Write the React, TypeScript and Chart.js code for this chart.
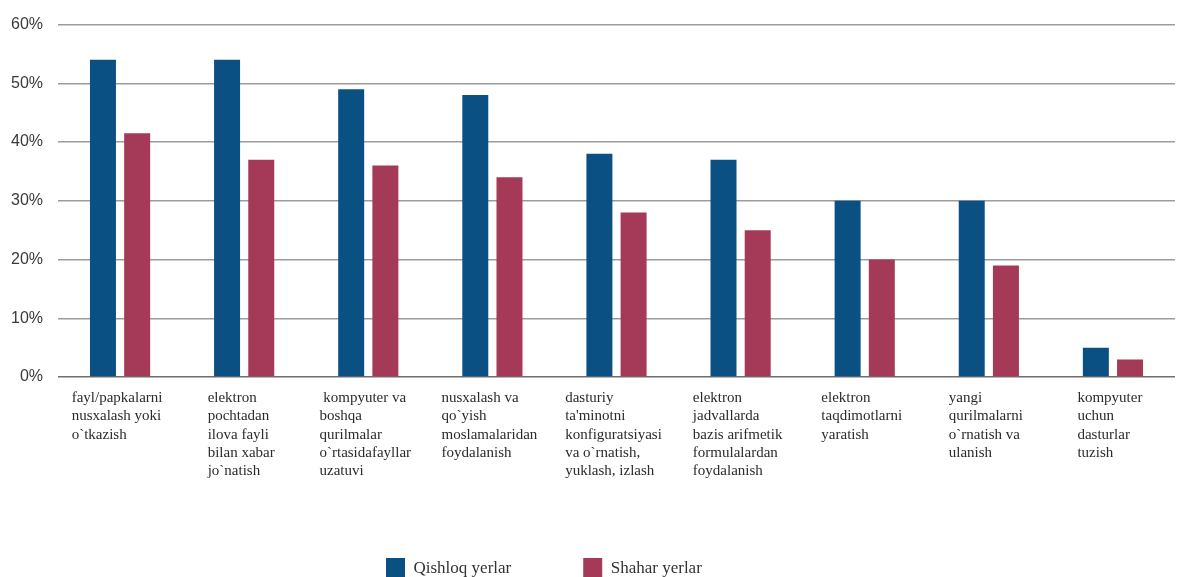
import React, { useEffect, useRef } from "react";
import { Chart, registerables } from "chart.js";

Chart.register(...registerables);

const categories: string[][] = [
  ["fayl/papkalarni", "nusxalash yoki", "o`tkazish"],
  ["elektron", "pochtadan", "ilova fayli", "bilan xabar", "jo`natish"],
  [" kompyuter va", "boshqa", "qurilmalar", "o`rtasidafayllar", "uzatuvi"],
  ["nusxalash va", "qo`yish", "moslamalaridan", "foydalanish"],
  ["dasturiy", "ta'minotni", "konfiguratsiyasi", "va o`rnatish,", "yuklash, izlash"],
  ["elektron", "jadvallarda", "bazis arifmetik", "formulalardan", "foydalanish"],
  ["elektron", "taqdimotlarni", "yaratish"],
  ["yangi", "qurilmalarni", "o`rnatish va", "ulanish"],
  ["kompyuter", "uchun", "dasturlar", "tuzish"],
];

const ruralValues: number[] = [54, 54, 49, 48, 38, 37, 30, 30, 5];
const urbanValues: number[] = [41.5, 37, 36, 34, 28, 25, 20, 19, 3];

const seriesNames: string[] = ["Qishloq yerlar", "Shahar yerlar"];
const yTicks: number[] = [0, 10, 20, 30, 40, 50, 60];

const BLUE = "#0b5082";
const RED = "#a53958";

const CHART_BOTTOM = 377;
const LEGEND_X = 386;
const LEGEND_Y = 558;

const tweaks = {
  id: "tweaks",
  afterLayout(chart: any) {
    const lg = chart.legend;
    if (lg && lg.lineWidths) {
      const pad = lg.options.labels.padding;
      const startX = (lg.left + pad + lg.right - lg.lineWidths[0]) / 2;
      const dx = LEGEND_X - startX;
      const dy = LEGEND_Y - (lg.top + pad);
      lg.left += dx;
      lg.right += dx;
      lg.top += dy;
      lg.bottom = chart.height + 20;
    }
  },
  beforeDraw(chart: any) {
    const scale = chart.scales.x;
    if (!scale) return;
    const items = scale.getLabelItems(chart.chartArea);
    const ctx = chart.ctx;
    ctx.save();
    items.forEach((item: any, i: number) => {
      ctx.font = item.font.string;
      const lines = Array.isArray(item.label) ? item.label : [item.label];
      let maxW = 0;
      lines.forEach((l: string) => {
        maxW = Math.max(maxW, ctx.measureText(l).width);
      });
      item.options.translation[0] = scale.getPixelForTick(i) - maxW / 2 - 3;
      item.options.textAlign = "left";
    });
    ctx.restore();
  },
};

export default function App() {
  const ref = useRef<HTMLCanvasElement | null>(null);

  useEffect(() => {
    if (!ref.current) return;
    const chart = new Chart(ref.current, {
      type: "bar",
      data: {
        labels: categories,
        datasets: [
          {
            label: seriesNames[0],
            data: ruralValues,
            backgroundColor: BLUE,
            borderWidth: 0,
            categoryPercentage: 0.551,
            barPercentage: 0.76,
          },
          {
            label: seriesNames[1],
            data: urbanValues,
            backgroundColor: RED,
            borderWidth: 0,
            categoryPercentage: 0.551,
            barPercentage: 0.76,
          },
        ],
      },
      options: {
        responsive: true,
        maintainAspectRatio: false,
        animation: false,
        layout: { padding: { top: 19, right: 4, left: 0, bottom: 0 } },
        plugins: {
          tooltip: { enabled: false },
          legend: {
            position: "bottom",
            maxHeight: 40,
            labels: {
              boxWidth: 19,
              boxHeight: 22,
              padding: 72,
              color: "#333",
              font: { family: "'Liberation Serif', serif", size: 17 },
            },
          },
        },
        scales: {
          x: {
            grid: { display: false, drawTicks: false },
            border: { display: false },
            ticks: {
              autoSkip: false,
              maxRotation: 0,
              minRotation: 0,
              padding: 12,
              color: "#2b2b2b",
              font: { family: "'Liberation Serif', serif", size: 15, lineHeight: 1.22 },
            },
            afterFit: (s: any) => {
              const lh = s.chart.legend ? s.chart.legend.height : 0;
              s.height = s.chart.height - CHART_BOTTOM - lh;
            },
          },
          y: {
            min: 0,
            max: 60,
            afterBuildTicks: (s: any) => {
              s.ticks = yTicks.map((v) => ({ value: v }));
            },
            afterFit: (s: any) => {
              s.width = 58;
            },
            grid: {
              drawTicks: false,
              color: (c: any) => (c.tick && c.tick.value === 0 ? "#6e6e6e" : "#9c9c9c"),
              lineWidth: 1.5,
            },
            border: { display: false },
            ticks: {
              padding: 15,
              color: "#3a3a3a",
              font: { family: "'Liberation Sans', Arial, sans-serif", size: 16 },
              callback: (v: any) => `${v}%`,
            },
          },
        },
      },
      plugins: [tweaks],
    });
    return () => chart.destroy();
  }, []);

  return (
    <div style={{ position: "fixed", left: 0, top: 0, width: 1179, height: 577, background: "#fff" }}>
      <canvas ref={ref} />
    </div>
  );
}
